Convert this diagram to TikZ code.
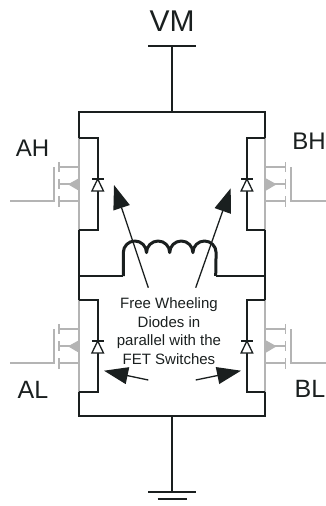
\documentclass[tikz,border=0pt]{standalone}
\usepackage{fontspec}
\setmainfont{Liberation Sans}
\usetikzlibrary{arrows.meta}
\definecolor{wirecol}{HTML}{1A1F1F}
\definecolor{fetcol}{HTML}{B4B4B4}
\tikzset{
  wire/.style={draw=wirecol, line width=1.7pt},
  fetline/.style={draw=fetcol, line width=1.7pt},
  coilwire/.style={draw=wirecol, line width=3pt},
  callout/.style={draw=wirecol, line width=1.3pt, -{Triangle[length=24pt, width=17pt, fill=wirecol]}},
  lbl/.style={text=wirecol, inner sep=0pt, anchor=base}
}
% #1 name, #2 rail x, #3 top y, #4 side (1 or -1), #5 length of gate lead
\newcommand{\fetsw}[5]{
\begin{scope}[shift={(#2,#3)}, xscale=#4]
\coordinate (#1top) at (0,0);
\coordinate (#1bot) at (0,92);
\coordinate (#1dt) at (18.4,0);
\coordinate (#1db) at (18.4,92);
\coordinate (#1dk) at (18.4,41);
\coordinate (#1da) at (18.4,53);
\coordinate (#1gt) at (-25.6,28.7);
\coordinate (#1gb) at (-25.6,63);
\coordinate (#1gin) at (-25.6-#5,63);
\draw[fetline] (#1top) -- (#1bot);
\draw[fetline] (0,28.7) -- (-20.3,28.7);
\draw[fetline] (-20.3,24) -- (-20.3,34);
\draw[fetline] (0,46.3) -- (-20.3,46.3);
\draw[fetline] (-20.3,41) -- (-20.3,51);
\draw[fetline] (0,63) -- (-20.3,63);
\draw[fetline] (-20.3,58) -- (-20.3,69);
\draw[fetline] (#1gin) -- (#1gb) -- (#1gt);
\fill[fetcol] (-11.3,46.3) -- (0,40) -- (0,53) -- cycle;
\draw[wire] (#1top) -- (#1dt) -- (#1db) -- (#1bot);
\draw[wire, line width=1.3pt, fill=white] (#1dk) -- (18.4-5.8,53) -- (18.4+5.8,53) -- cycle;
\draw[wire, line width=1.3pt] (18.4-5.8,41) -- (18.4+5.8,41);
\end{scope}
}
\begin{document}
\begin{tikzpicture}[x=1pt, y=-1pt]
\useasboundingbox (0,0) rectangle (325,506);

\fetsw{ah}{79.3}{138}{1}{43.7};
\fetsw{bh}{265.3}{138}{-1}{34.7};
\fetsw{al}{79.3}{300}{1}{43.7};
\fetsw{bl}{265.3}{300}{-1}{34.7};

\coordinate (vmtop) at (172,46);
\coordinate (vml) at (148,46);
\coordinate (vmr) at (196,46);
\coordinate (topmid) at (172,112.3);
\coordinate (topl) at (79.3,112.3);
\coordinate (topr) at (265.3,112.3);
\coordinate (botl) at (79.3,415.7);
\coordinate (botr) at (265.3,415.7);
\coordinate (botmid) at (172,415.7);
\coordinate (gnd) at (172,492.3);
\coordinate (gndl) at (148,492.3);
\coordinate (gndr) at (196,492.3);
\coordinate (gnd2l) at (157.7,499.3);
\coordinate (gnd2r) at (186.7,499.3);
\coordinate (midl) at (79.3,276);
\coordinate (midr) at (265.3,276);
\coordinate (coill) at (123.3,276);
\coordinate (coilr) at (215.7,276);

\draw[wire] (vml) -- (vmr);
\draw[wire] (vmtop) -- (topmid);
\draw[wire] (ahtop) -- (topl) -- (topr) -- (bhtop);
\draw[wire] (ahbot) -- (altop);
\draw[wire] (bhbot) -- (bltop);
\draw[wire] (albot) -- (botl) -- (botr) -- (blbot);
\draw[wire] (botmid) -- (gnd);
\draw[wire] (gndl) -- (gndr);
\draw[wire] (gnd2l) -- (gnd2r);
\draw[wire] (midl) -- (coill);
\draw[wire] (coilr) -- (midr);

\draw[coilwire, line join=round] (coill) -- (123.3,252.6)
  arc[start angle=180, end angle=360, radius=11.6]
  arc[start angle=180, end angle=360, radius=11.6]
  arc[start angle=180, end angle=360, radius=11.6]
  arc[start angle=180, end angle=360, radius=11.6] -- (coilr);

\node[lbl, font=\fontsize{30}{30}\selectfont] (vm) at (172,31) {VM};
\node[lbl, font=\fontsize{24}{24}\selectfont] (ahlbl) at (32.5,156.7) {AH};
\node[lbl, font=\fontsize{24}{24}\selectfont] (bhlbl) at (309,149.3) {BH};
\node[lbl, font=\fontsize{25}{25}\selectfont] (allbl) at (33,398.3) {AL};
\node[lbl, font=\fontsize{25}{25}\selectfont] (bllbl) at (310,397.7) {BL};
\node[text=wirecol, inner sep=0pt, align=center, font=\fontsize{15}{18.7}\selectfont] (freetxt) at (169,331) {Free Wheeling\\Diodes in\\parallel with the\\FET Switches};

\coordinate (tailul) at (148.3,287.7);
\coordinate (tipul) at (114,185);
\coordinate (tailur) at (195.7,287.7);
\coordinate (tipur) at (230.7,188.3);
\coordinate (taildl) at (148.3,380);
\coordinate (tipdl) at (104,370.7);
\coordinate (taildr) at (195.7,380);
\coordinate (tipdr) at (241,370.7);
\draw[callout] (tailul) -- (tipul);
\draw[callout] (tailur) -- (tipur);
\draw[callout] (taildl) -- (tipdl);
\draw[callout] (taildr) -- (tipdr);
\end{tikzpicture}
\end{document}
